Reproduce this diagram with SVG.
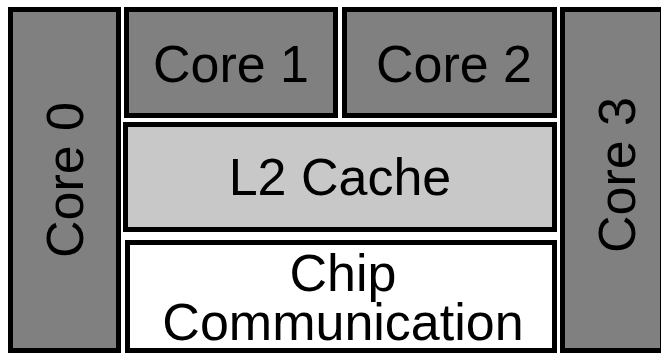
<svg xmlns="http://www.w3.org/2000/svg" width="661" height="353" viewBox="0 0 661 353">
<style>
.box{stroke:#000;stroke-width:5}
.core{fill:#808080}
.l2{fill:#c8c8c8}
.chip{fill:#fff}
text{font-family:"Liberation Sans",Arial,sans-serif;font-size:52px;fill:#000;text-anchor:middle}
</style>
<rect width="661" height="353" fill="#fff"/>
<g id="core0">
<rect class="box core" x="10.5" y="9.5" width="108" height="341"/>
<text transform="translate(83,180) rotate(-90)">Core 0</text>
</g>
<g id="core1">
<rect class="box core" x="126.5" y="9.5" width="209" height="106"/>
<text x="231" y="82">Core 1</text>
</g>
<g id="core2">
<rect class="box core" x="344.5" y="9.5" width="210" height="106"/>
<text x="454" y="82">Core 2</text>
</g>
<g id="l2cache">
<rect class="box l2" x="125.5" y="124.5" width="429" height="105"/>
<text x="340" y="195">L2 Cache</text>
</g>
<g id="chipcomm">
<rect class="box chip" x="127.5" y="242.5" width="427" height="108"/>
<text x="343" y="291">Chip</text>
<text x="343" y="340">Communication</text>
</g>
<g id="core3">
<rect class="box core" x="562.5" y="9.5" width="100" height="341"/>
<text transform="translate(635,175) rotate(-90)">Core 3</text>
</g>
<g id="connectors"/>
</svg>
